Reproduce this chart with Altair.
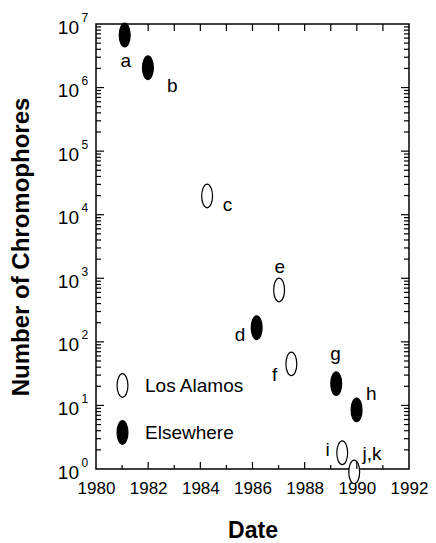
import altair as alt
import pandas as pd

# ---- data ----
labels = ["a", "b", "c", "d", "e", "f", "g", "h", "i", "j,k"]
years = [1981.10, 1981.99, 1984.26, 1986.16, 1987.02, 1987.49, 1989.21, 1989.99, 1989.44, 1989.90]
chromophores = [6.7e6, 2.05e6, 1.97e4, 167, 655, 45, 22, 8.5, 1.8, 0.9]
sites = ["Elsewhere", "Elsewhere", "Los Alamos", "Elsewhere", "Los Alamos",
         "Los Alamos", "Elsewhere", "Elsewhere", "Los Alamos", "Los Alamos"]
site_order = ["Los Alamos", "Elsewhere"]

x_label_years = [1980, 1982, 1984, 1986, 1988, 1990, 1992]
x_minor_years = [1981, 1983, 1985, 1987, 1989, 1991]
x_all_years = [1981, 1982, 1983, 1984, 1985, 1986, 1987, 1988, 1989, 1990, 1991]
y_decades = [1, 10, 100, 1000, 10000, 100000, 1000000, 10000000]
y_exponents = ["0", "1", "2", "3", "4", "5", "6", "7"]
y_minor = [m * d for d in [1, 10, 100, 1000, 10000, 100000, 1000000] for m in range(2, 10)]

# ---- styles ----
FONT = "Liberation Sans"
W, H = 313, 445
ELLIPSE = "M0,-1A0.46,1,0,1,1,0,1A0.46,1,0,1,1,0,-1Z"
SYM_SIZE = 560

# label offsets (style): dx, dy relative to point centre, alphabetic baseline
label_offsets = {
    "a": (1, 31.7), "b": (24.4, 24), "c": (20.3, 14.7), "d": (-16.7, 13),
    "e": (0.7, -16.7), "f": (-16.7, 16.7), "g": (-0.7, -23.6), "h": (14.7, -10),
    "i": (-14.7, 3), "j,k": (17.8, -11.6),
}

df = pd.DataFrame({"label": labels, "year": years, "n": chromophores, "site": sites})

xscale = alt.Scale(domain=[1980, 1992], nice=False, zero=False)
yscale = alt.Scale(type="log", domain=[1, 1e7], nice=False)

x_axis = alt.Axis(values=x_label_years, format="d", ticks=False, domain=False, grid=False,
                  labelFontSize=17, labelFont=FONT, labelColor="black", labelPadding=11,
                  labelFlush=False, labelOverlap=False,
                  title="Date", titleFontSize=23, titleFont=FONT, titleFontWeight="bold",
                  titleColor="black", titleBaseline="alphabetic", titleY=68)
y_axis = alt.Axis(values=y_decades, labelExpr="'10'", ticks=False, domain=False, grid=False,
                  labelFontSize=19, labelFont=FONT, labelColor="black", labelPadding=17.5,
                  labelBaseline="alphabetic", labelOffset=9, labelFlush=False, labelOverlap=False,
                  title="Number of Chromophores", titleFontSize=24, titleFont=FONT,
                  titleFontWeight="bold", titleColor="black", titleX=-63, titleY=H / 2,
                  titleBaseline="bottom", titleAngle=270)

legend = alt.Legend(orient="none", legendX=14, legendY=349, title=None, direction="vertical",
                    symbolType=ELLIPSE, symbolSize=SYM_SIZE, symbolStrokeColor="black",
                    symbolStrokeWidth=1.2, symbolOpacity=1, labelFontSize=19, labelFont=FONT,
                    labelColor="black", labelOffset=10, rowPadding=18, padding=0)

X = lambda f: alt.X(f, scale=xscale, axis=x_axis)
Y = lambda f: alt.Y(f, scale=yscale, axis=y_axis)

points = alt.Chart(df).mark_point(shape=ELLIPSE, size=SYM_SIZE, filled=True, stroke="black",
                                  strokeWidth=1.2, opacity=1).encode(
    x=X("year:Q"),
    y=Y("n:Q"),
    fill=alt.Fill("site:N", scale=alt.Scale(domain=site_order, range=["white", "black"]),
                  legend=legend),
)

layers = [points]

def xrule(vals, y0, y1):
    return alt.Chart(pd.DataFrame({"v": vals})).mark_rule(color="black", strokeWidth=1.2).encode(
        x=X("v:Q"), y=alt.value(y0), y2=alt.value(y1))

def yrule(vals, x0, x1):
    return alt.Chart(pd.DataFrame({"v": vals})).mark_rule(color="black", strokeWidth=1.2).encode(
        y=Y("v:Q"), x=alt.value(x0), x2=alt.value(x1))

layers.append(xrule(x_label_years[1:-1], H, H - 7))
layers.append(xrule(x_minor_years, H, H - 4))
layers.append(xrule(x_all_years, 0, 7))
layers.append(yrule(y_decades[1:-1], 0, 8))
layers.append(yrule(y_minor, 0, 5))
layers.append(yrule(y_decades[1:-1], W, W - 8))
layers.append(yrule(y_minor, W, W - 5))

exp_df = pd.DataFrame({"v": y_decades, "e": y_exponents})
layers.append(alt.Chart(exp_df).mark_text(align="left", baseline="alphabetic", fontSize=12,
                                          font=FONT, dy=-2.5, color="black").encode(
    y=Y("v:Q"), x=alt.value(-14.5), text="e:N"))

for lab in labels:
    dx, dy = label_offsets[lab]
    layers.append(alt.Chart(df).transform_filter(alt.datum.label == lab).mark_text(
        align="center", baseline="alphabetic", fontSize=19, font=FONT, color="black",
        dx=dx, dy=dy).encode(
        x=X("year:Q"),
        y=Y("n:Q"),
        text="label:N"))

chart = alt.layer(*layers).properties(
    width=W, height=H,
    padding={"left": 88, "top": 16, "right": 19, "bottom": 72},
    autosize=alt.AutoSizeParams(type="none"),
).configure_view(stroke="black", strokeWidth=1.5)

chart.save("out.html", embed_options={"renderer": "svg", "actions": False})
